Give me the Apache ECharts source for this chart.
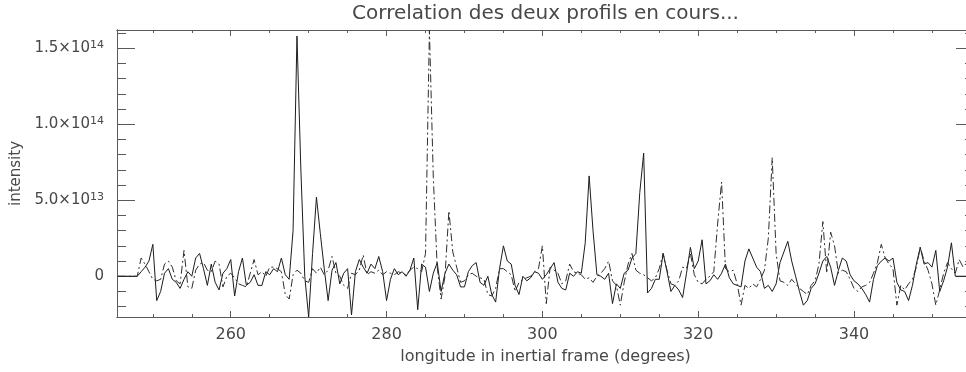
<!DOCTYPE html>
<html>
<head>
<meta charset="utf-8">
<script src="https://cdn.jsdelivr.net/npm/echarts@6/dist/echarts.min.js"></script>
<style>
  html, body { margin: 0; padding: 0; background: #ffffff; overflow: hidden; }
  /* the plot frame runs a few pixels past the right edge of the window */
  #chart { width: 984px; height: 372px; }
</style>
</head>
<body>
<div id="chart"></div>
<script>
// Longitude grid of the two profiles (degrees), regular step
const LON_START = 245.5;
const LON_STEP = 0.5;
// Profile values are listed in units of 1e13
const SCALE = 1e13;

// Solid profile, 245.5 .. 355.0 deg
const profileSolid = [
  0, 0, 0, 0, 0, 0, 0.3, 0.6, 1.0, 2.1,
  -1.6, -1.0, 0.2, 0.5, -0.2, -0.4, -0.8, -0.2, 0.3, 0.0,
  1.2, 1.5, 0.5, -0.6, 0.8, -0.4, -0.9, 0.2, 0.5, 1.1,
  -1.3, 0.3, 1.2, -0.6, -0.4, 0.1, -0.6, -0.6, 0.3, 0.1,
  0.5, 0.3, 1.2, 0.1, -0.2, 3.0, 15.8, 7.0, 0.0, -2.68,
  1.5, 5.2, 2.8, 0.5, -1.6, 0.4, 0.9, -0.5, 0.2, 0.5,
  -2.55, 0.3, 1.1, 0.6, 0.2, 0.8, 0.5, 1.3, 0.3, -1.6,
  -0.2, 0.5, 0.1, 0.3, 0.0, 0.4, 1.2, -2.2, 0.8, 0.6,
  -1.0, 0.2, 0.9, -1.0, 0.2, 0.8, 0.4, 0.1, -0.7, -0.7,
  0.3, 0.7, 0.9, -0.4, -0.6, 0.0, -1.2, -1.7, 0.5, 2.0,
  1.0, 0.8, -0.6, -1.2, 0.0, -0.3, -0.1, 0.3, 0.2, -0.2,
  0.1, 0.5, 0.9, -0.4, -0.8, -0.9, 0.2, 0.0, 0.3, 0.2,
  2.2, 6.6, 3.0, 0.1, 0.0, -0.2, 0.2, -1.8, -0.5, -0.8,
  0.2, 0.4, 1.2, 1.5, 5.5, 8.1, -1.1, -0.8, -0.2, -0.2,
  1.5, 0.3, -1.0, -0.6, -0.9, -1.4, 0.2, 1.9, 0.5, 1.0,
  2.4, -0.5, -0.3, 0.1, -0.2, 0.2, 0.8, -0.1, -0.5, -0.6,
  -0.7, 1.0, 1.8, 1.2, 0.6, 0.3, -0.8, -0.6, -1.0, -0.5,
  0.9, 1.6, 2.3, 1.0, 0.0, -1.0, -1.9, -1.6, -0.8, -0.5,
  0.2, 1.0, 1.3, 0.6, -0.6, 0.4, 1.2, 1.0, 0.1, -0.3,
  -0.5, -0.8, -1.2, -1.7, -0.2, 0.7, 1.0, 1.2, 1.0, 1.2,
  -0.4, -0.9, -1.0, -1.6, -0.6, 0.8, 1.9, 0.8, 0.9, 0.6,
  1.7, -1.0, -0.3, 0.6, 2.2, 0, 0, 0, 0, 0
];

// Dash-dot profile, 245.5 .. 355.0 deg
const profileDashed = [
  0, 0, 0, 0, 0, 0, 1.2, 0.8, 0.3, -0.2,
  -0.3, -0.2, 0.8, 1.0, 0.6, -0.3, -0.5, 1.7, -0.7, -0.8,
  0.4, 0.8, 0.9, 0.4, 0.3, 1.0, 0.8, -0.7, 0.0, 0.2,
  -0.1, -0.5, -0.6, -0.7, 0.2, 1.1, 0.1, 0.3, 0.0, 0.6,
  0.6, 0.5, 0.3, -1.2, -1.5, 0.1, 0.4, 0.2, -0.3, -0.4,
  0.5, 0.2, 0.6, 0.1, 0.4, 1.3, 0.2, 0.0, -0.6, -0.8,
  0.2, 0.1, 0.4, 1.4, 0.1, 0.3, 0.2, 0.4, 0.1, 0.3,
  0.2, 0.1, 0.3, 0.2, 0.1, 0.4, 0.6, 0.5, 0.3, 1.5,
  16.2, 6.5, 0.6, -1.5, 0.0, 4.3, 1.6, 0.6, -0.4, -0.3,
  0.1, 0.2, 0.0, -0.1, -0.2, -1.2, -1.3, -0.8, 0.5, 0.5,
  0.3, 0.1, -1.0, -0.4, -0.2, -0.1, 0.0, 0.3, 0.5, 2.0,
  -1.8, 0.6, 0.4, 0.2, -0.5, -0.3, 0.8, 0.3, 0.2, 0.1,
  -0.2, -0.1, -0.4, 0.0, 0.2, 0.5, 1.0, -0.3, -0.6, -1.9,
  -0.4, 0.8, 1.5, 0.4, 0.2, 0.1, -0.1, -0.3, -0.1, 0.5,
  1.5, 0.4, -0.5, -0.6, -0.3, 0.6, 0.5, 1.5, 0.1, -0.4,
  -0.5, -0.2, 0.0, 0.3, 3.5, 6.2, 0.5, 0.3, 0.4, -0.5,
  -1.9, -0.6, -0.8, -0.5, -0.7, -0.2, 0.4, 2.5, 7.8, 1.5,
  -0.3, -0.4, -0.6, -0.2, -0.5, -0.8, -1.0, -1.2, -0.6, -0.3,
  0.8, 3.6, 0.2, 2.9, 2.0, 0.2, 0.4, 0.3, -0.2, -0.8,
  -1.0, -0.7, -0.6, -0.4, 0.2, 0.9, 2.1, 1.2, 0.8, 0.5,
  -1.9, -0.6, -0.9, -0.5, -0.2, 0.6, 1.9, 1.0, 0.4, -0.5,
  -1.9, -0.9, 0.2, 0.9, 0.5, 0.2, 1.1, 0.6, 0.9, 0.5
];

// Axis ranges and ticks
const lonRange = [245.4, 355.4];
const intensityRange = [-2.68e13, 1.62e14];
const lonTicks = [260, 280, 300, 320, 340];
const lonMinorTicks = [250, 255, 265, 270, 275, 285, 290, 295, 305, 310, 315, 325, 330, 335, 345, 350, 355];
const intensityTicks = [0, 5e13, 1e14, 1.5e14];
const intensityMinorTicks = [-2e13, -1e13, 1e13, 2e13, 3e13, 4e13, 6e13, 7e13, 8e13, 9e13,
  11e13, 12e13, 13e13, 14e13, 16e13];

const TEXT = '#484848';
const FRAME = '#5a5a5a';
const FONT = 'DejaVu Sans';

function toPairs(values) {
  return values.map((v, i) => [LON_START + i * LON_STEP, v * SCALE]);
}

function sciLabel(v) {
  if (v === 0) return '0';
  const exp = Math.floor(Math.log10(Math.abs(v)) + 1e-9);
  const m = (v / Math.pow(10, exp)).toFixed(1);
  return '{m|' + m + '×10}{e|' + exp + '}';
}

const lineColor = { color: FRAME, width: 1 };

function xAxisDef(grid, position, ticks, len, extra) {
  return Object.assign({
    type: 'value', gridIndex: grid, position: position,
    min: lonRange[0], max: lonRange[1],
    axisLine: { show: true, onZero: false, lineStyle: lineColor },
    axisTick: { show: true, inside: true, length: len, customValues: ticks, lineStyle: lineColor },
    axisLabel: { show: false },
    splitLine: { show: false }
  }, extra || {});
}

function yAxisDef(grid, position, ticks, len, extra) {
  return Object.assign({
    type: 'value', gridIndex: grid, position: position,
    min: intensityRange[0], max: intensityRange[1],
    axisLine: { show: true, onZero: false, lineStyle: lineColor },
    axisTick: { show: true, inside: true, length: len, customValues: ticks, lineStyle: lineColor },
    axisLabel: { show: false },
    splitLine: { show: false }
  }, extra || {});
}

const plotRect = { left: 117, top: 30, width: 857, height: 287, outerBoundsMode: 'none', containLabel: false };

const option = {
  animation: false,
  backgroundColor: '#ffffff',
  grid: [Object.assign({}, plotRect), Object.assign({}, plotRect)],
  xAxis: [
    xAxisDef(0, 'bottom', lonTicks, 6, {
      axisLabel: {
        show: true, customValues: lonTicks, margin: 10,
        color: TEXT, fontFamily: FONT, fontSize: 16
      },
      name: 'longitude in inertial frame (degrees)',
      nameLocation: 'middle', nameGap: 32,
      nameTextStyle: { color: TEXT, fontFamily: FONT, fontSize: 16 }
    }),
    xAxisDef(0, 'top', lonTicks, 6, {
      name: 'Correlation des deux profils en cours...',
      nameLocation: 'middle', nameGap: 6,
      nameTextStyle: { color: TEXT, fontFamily: FONT, fontSize: 20 }
    }),
    xAxisDef(1, 'bottom', lonMinorTicks, 3),
    xAxisDef(1, 'top', lonMinorTicks, 3)
  ],
  yAxis: [
    yAxisDef(0, 'left', intensityTicks, 18, {
      axisLabel: {
        show: true, customValues: intensityTicks, margin: 13,
        color: TEXT, fontFamily: FONT, fontSize: 15,
        formatter: sciLabel,
        rich: {
          m: { color: TEXT, fontFamily: FONT, fontSize: 15, lineHeight: 18 },
          e: { color: TEXT, fontFamily: FONT, fontSize: 11, lineHeight: 11, verticalAlign: 'top' }
        }
      },
      name: 'intensity',
      nameLocation: 'middle', nameGap: 92,
      nameTextStyle: { color: TEXT, fontFamily: FONT, fontSize: 15 }
    }),
    yAxisDef(0, 'right', intensityTicks, 18),
    yAxisDef(1, 'left', intensityMinorTicks, 9),
    yAxisDef(1, 'right', intensityMinorTicks, 9)
  ],
  series: [
    {
      name: 'profil 1', type: 'line', xAxisIndex: 0, yAxisIndex: 0,
      data: toPairs(profileSolid), symbol: 'none', showSymbol: false,
      clip: true, silent: true,
      lineStyle: { color: '#1c1c1c', width: 1 }
    },
    {
      name: 'profil 2', type: 'line', xAxisIndex: 0, yAxisIndex: 0,
      data: toPairs(profileDashed), symbol: 'none', showSymbol: false,
      clip: true, silent: true,
      lineStyle: { color: '#2e2e2e', width: 1, type: [8, 3, 2, 3] }
    }
  ]
};

const chart = echarts.init(document.getElementById('chart'), null, { renderer: 'canvas' });
chart.setOption(option);
</script>
</body>
</html>
